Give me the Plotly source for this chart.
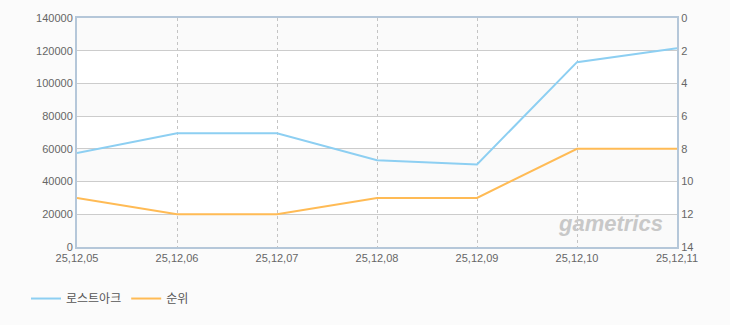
import plotly.graph_objects as go

dates = ["25,12,05", "25,12,06", "25,12,07", "25,12,08", "25,12,09", "25,12,10", "25,12,11"]
lostark = [57500, 69500, 69500, 53000, 50500, 113000, 121500]
rank = [11, 12, 12, 11, 11, 8, 8]
band_starts = [0, 40000, 80000, 120000]
band_size = 20000

fig = go.Figure()
fig.add_trace(go.Scatter(x=dates, y=lostark, name="로스트아크", mode="lines",
                         line=dict(color="#8dcff2", width=2), yaxis="y"))
fig.add_trace(go.Scatter(x=dates, y=rank, name="순위", mode="lines",
                         line=dict(color="#ffbb55", width=2), yaxis="y2"))

shapes = []
for b in band_starts:
    shapes.append(dict(type="rect", xref="x domain", yref="y", x0=0, x1=1,
                       y0=b, y1=b + band_size, fillcolor="#fafafa",
                       line=dict(width=0), layer="below"))

axis_font = dict(family="Liberation Sans, DejaVu Sans, sans-serif", size=11, color="#666666")
line_col = "#b5c7d9"

fig.update_layout(
    width=730, height=325,
    margin=dict(l=77, r=53, t=16, b=77),
    paper_bgcolor="#fbfbfb",
    plot_bgcolor="#ffffff",
    shapes=shapes,
    showlegend=True,
    legend=dict(orientation="h", x=-0.085, xanchor="left", y=-0.225, yanchor="middle",
                font=dict(family="Noto Sans CJK KR, sans-serif", size=12, color="#555555"),
                bgcolor="rgba(0,0,0,0)", itemwidth=30, tracegroupgap=0),
    xaxis=dict(type="category", range=[0, 6], showgrid=True, gridcolor="#c4c4c4",
               griddash="3px,3px", gridwidth=1, showline=True, linecolor=line_col,
               linewidth=2, mirror=True, ticks="", tickfont=axis_font, zeroline=False),
    yaxis=dict(range=[0, 140000], dtick=20000, tickformat="d", showgrid=True,
               gridcolor="#cccccc", gridwidth=1, showline=True, linecolor=line_col,
               linewidth=2, ticks="", tickfont=axis_font, zeroline=False),
    yaxis2=dict(range=[14, 0], dtick=2, overlaying="y", side="right", showgrid=False,
                showline=True, linecolor=line_col, linewidth=2, ticks="",
                tickfont=axis_font, zeroline=False),
    annotations=[dict(text="gametrics", xref="paper", yref="paper", x=0.98, y=0.04,
                      xanchor="right", yanchor="bottom", showarrow=False,
                      font=dict(family="Liberation Sans, Arial, sans-serif", size=22,
                                color="#c8c8c8", weight="bold", style="italic"))],
)

fig.write_html("out.html")
